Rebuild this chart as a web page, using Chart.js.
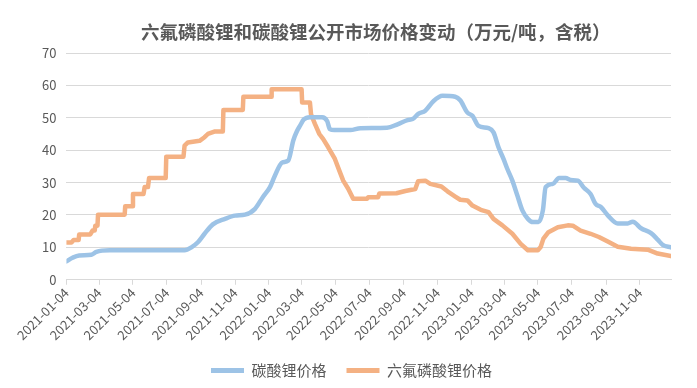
<!DOCTYPE html>
<html>
<head>
<meta charset="utf-8">
<script src="https://cdn.jsdelivr.net/npm/chart.js@4/dist/chart.umd.min.js"></script>
<style>
  html, body { margin: 0; padding: 0; background: #ffffff; }
  #wrap { width: 697px; height: 388px; position: relative; }
</style>
</head>
<body>
<div id="wrap"><canvas id="priceChart"></canvas></div>
<script>
// ---- data (万元/吨) ----
const chartTitle = '六氟磷酸锂和碳酸锂公开市场价格变动（万元/吨，含税）';
const seriesNames = ['碳酸锂价格', '六氟磷酸锂价格'];

const tickDates = [
  '2021-01-04', '2021-03-04', '2021-05-04', '2021-07-04', '2021-09-04', '2021-11-04',
  '2022-01-04', '2022-03-04', '2022-05-04', '2022-07-04', '2022-09-04', '2022-11-04',
  '2023-01-04', '2023-03-04', '2023-05-04', '2023-07-04', '2023-09-04', '2023-11-04'
];
const lastDate = '2023-12-30';
const yTicks = [0, 10, 20, 30, 40, 50, 60, 70];

// 碳酸锂
const lithiumDates = [
  '2021-01-04', '2021-01-15', '2021-01-27', '2021-02-18', '2021-02-27', '2021-03-23',
  '2021-08-05', '2021-08-18', '2021-08-29', '2021-09-10', '2021-09-25', '2021-10-17',
  '2021-11-04', '2021-11-22', '2021-12-10', '2021-12-24', '2022-01-06', '2022-01-15',
  '2022-01-28', '2022-02-08', '2022-02-17', '2022-02-24', '2022-03-01', '2022-03-08',
  '2022-03-19', '2022-04-10', '2022-04-19', '2022-04-24', '2022-05-02', '2022-05-31',
  '2022-06-18', '2022-08-05', '2022-08-24', '2022-09-11', '2022-09-20', '2022-10-01',
  '2022-10-13', '2022-10-28', '2022-11-13', '2022-12-06', '2022-12-15', '2022-12-28',
  '2023-01-06', '2023-01-17', '2023-02-04', '2023-02-13', '2023-02-22', '2023-03-03',
  '2023-03-10', '2023-03-19', '2023-03-28', '2023-04-06', '2023-04-16', '2023-04-25',
  '2023-05-05', '2023-05-13', '2023-05-18', '2023-05-31', '2023-06-11', '2023-06-23',
  '2023-07-02', '2023-07-15', '2023-07-26', '2023-08-07', '2023-08-16', '2023-08-26',
  '2023-09-07', '2023-09-25', '2023-10-13', '2023-10-22', '2023-11-06', '2023-11-24',
  '2023-12-06', '2023-12-15', '2023-12-30'
];
const lithiumValues = [
  5.7, 6.8, 7.5, 7.7, 8.6, 9.1,
  9.1, 10.1, 11.6, 14.2, 17.1, 18.8,
  19.8, 20.1, 21.9, 25.5, 28.6, 32.2,
  36.2, 36.8, 43.0, 46.0, 47.5, 49.5,
  50.2, 50.2, 49.0, 46.5, 46.2, 46.2,
  46.8, 46.9, 48.0, 49.3, 49.6, 51.3,
  52.2, 55.2, 56.8, 56.5, 55.4, 51.6,
  50.6, 47.5, 46.8, 45.5, 40.9, 37.3,
  34.2, 30.6, 26.0, 21.4, 18.8, 17.8,
  17.8, 21.4, 28.6, 29.6, 31.4, 31.4,
  30.8, 30.6, 28.4, 26.5, 23.4, 22.4,
  19.9, 17.4, 17.4, 17.9, 15.9, 14.4,
  12.4, 10.8, 10.0
];

// 六氟磷酸锂
const lipf6Dates = [
  '2021-01-04', '2021-01-13', '2021-01-17', '2021-01-26', '2021-01-27', '2021-02-16',
  '2021-02-20', '2021-02-24', '2021-02-25', '2021-03-01', '2021-03-02', '2021-04-19',
  '2021-04-20', '2021-05-03', '2021-05-04', '2021-05-23', '2021-05-25', '2021-05-31',
  '2021-06-02', '2021-07-02', '2021-07-03', '2021-08-03', '2021-08-05', '2021-08-11',
  '2021-09-01', '2021-09-10', '2021-09-16', '2021-09-29', '2021-10-13', '2021-10-14',
  '2021-11-18', '2021-11-19', '2022-01-08', '2022-01-09', '2022-03-04', '2022-03-05',
  '2022-03-19', '2022-03-21', '2022-03-28', '2022-04-05', '2022-04-12', '2022-04-21',
  '2022-05-03', '2022-05-11', '2022-05-18', '2022-05-27', '2022-06-05', '2022-06-30',
  '2022-07-02', '2022-07-20', '2022-07-22', '2022-08-22', '2022-09-07', '2022-09-25',
  '2022-09-30', '2022-10-13', '2022-10-22', '2022-11-11', '2022-11-22', '2022-12-06',
  '2022-12-15', '2022-12-28', '2023-01-06', '2023-01-21', '2023-02-04', '2023-02-13',
  '2023-03-01', '2023-03-19', '2023-04-03', '2023-04-16', '2023-05-04', '2023-05-09',
  '2023-05-14', '2023-05-23', '2023-06-09', '2023-06-27', '2023-07-06', '2023-07-20',
  '2023-08-07', '2023-08-22', '2023-09-07', '2023-09-25', '2023-10-19', '2023-11-18',
  '2023-12-06', '2023-12-30'
];
const lipf6Values = [
  11.5, 11.5, 12.3, 12.3, 14.0, 14.0,
  15.2, 15.2, 16.7, 16.7, 20.1, 20.1,
  22.7, 22.7, 26.5, 26.5, 28.6, 28.6,
  31.4, 31.4, 38.0, 38.0, 41.4, 42.4,
  42.9, 44.0, 45.0, 45.8, 45.8, 52.4,
  52.4, 56.5, 56.5, 58.8, 58.8, 54.7,
  54.7, 51.1, 48.1, 45.0, 43.4, 40.9,
  37.3, 33.7, 30.6, 28.1, 25.0, 25.0,
  25.5, 25.5, 26.6, 26.7, 27.4, 28.0,
  30.4, 30.6, 29.6, 28.8, 27.3, 25.7,
  24.7, 24.5, 22.9, 21.6, 20.9, 18.8,
  16.8, 14.2, 11.1, 9.1, 9.1, 10.1,
  12.7, 14.7, 16.2, 16.8, 16.7, 15.2,
  14.2, 13.2, 11.8, 10.2, 9.6, 9.3,
  8.1, 7.3
];

// ---- helpers ----
const DAY = 86400000;
const origin = Date.parse(tickDates[0]);
const toDay = (d) => Math.round((Date.parse(d) - origin) / DAY);
const toPoints = (dates, values) => dates.map((d, i) => ({ x: toDay(d), y: values[i] }));

const tickLabelByDay = {};
tickDates.forEach(d => { tickLabelByDay[toDay(d)] = d; });

const textColor = '#595959';
const gridColor = '#d9d9d9';
const baseFont = "'Noto Sans CJK SC', 'Noto Sans', sans-serif";

// title drawn over the plot area centre
const titlePlugin = {
  id: 'topTitle',
  afterDraw(chart) {
    const { ctx, chartArea } = chart;
    ctx.save();
    ctx.font = "bold 18.5px " + baseFont;
    ctx.fillStyle = textColor;
    ctx.textAlign = 'center';
    ctx.textBaseline = 'middle';
    ctx.fillText(chartTitle, (chartArea.left + chartArea.right) / 2 + 7, 32);
    ctx.restore();
  }
};

const ctx = document.getElementById('priceChart');
new Chart(ctx, {
  type: 'line',
  data: {
    datasets: [
      {
        label: seriesNames[0],
        data: toPoints(lithiumDates, lithiumValues),
        borderColor: '#9dc3e6',
        backgroundColor: '#9dc3e6',
        borderWidth: 4.5,
        pointRadius: 0,
        cubicInterpolationMode: 'monotone',
        borderJoinStyle: 'round',
        borderCapStyle: 'round'
      },
      {
        label: seriesNames[1],
        data: toPoints(lipf6Dates, lipf6Values),
        borderColor: '#f4b183',
        backgroundColor: '#f4b183',
        borderWidth: 4.5,
        pointRadius: 0,
        tension: 0,
        borderJoinStyle: 'round',
        borderCapStyle: 'round'
      }
    ]
  },
  options: {
    responsive: true,
    maintainAspectRatio: false,
    animation: false,
    layout: { padding: { top: 53, right: 26, left: 32, bottom: 0 } },
    plugins: {
      title: { display: false },
      tooltip: { enabled: false },
      legend: {
        display: true,
        position: 'bottom',
        labels: {
          color: textColor,
          font: { family: baseFont, size: 15 },
          boxWidth: 33,
          boxHeight: 5,
          padding: 20,
          useBorderRadius: true,
          borderRadius: 2.5,
          generateLabels(chart) {
            return chart.data.datasets.map((ds, i) => ({
              text: ds.label,
              fillStyle: ds.borderColor,
              strokeStyle: ds.borderColor,
              lineWidth: 0,
              fontColor: textColor,
              datasetIndex: i
            }));
          }
        }
      }
    },
    scales: {
      x: {
        type: 'linear',
        min: 0,
        max: toDay(lastDate),
        afterBuildTicks(scale) {
          scale.ticks = tickDates.map(d => ({ value: toDay(d) }));
        },
        ticks: {
          autoSkip: false,
          maxRotation: 45,
          minRotation: 45,
          color: textColor,
          font: { family: baseFont, size: 13 },
          padding: 0,
          callback: (value) => tickLabelByDay[value] || ''
        },
        grid: {
          drawOnChartArea: false,
          drawTicks: true,
          tickLength: 5,
          color: gridColor
        },
        border: { display: true, color: gridColor }
      },
      y: {
        min: 0,
        max: 70,
        afterBuildTicks(scale) {
          scale.ticks = yTicks.map(v => ({ value: v }));
        },
        ticks: {
          color: textColor,
          font: { family: baseFont, size: 13 },
          padding: 10
        },
        grid: { color: gridColor, drawTicks: false, lineWidth: 1 },
        border: { display: false }
      }
    }
  },
  plugins: [titlePlugin]
});
</script>
</body>
</html>
